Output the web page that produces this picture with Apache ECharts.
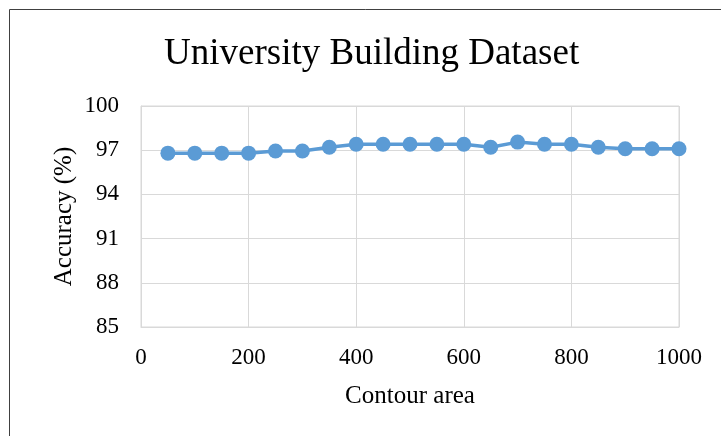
<!DOCTYPE html>
<html>
<head>
<meta charset="utf-8">
<script src="https://cdn.jsdelivr.net/npm/echarts@6/dist/echarts.min.js"></script>
<style>html,body{margin:0;padding:0;background:#fff;}#c{width:721px;height:436px;}</style>
</head>
<body>
<div id="c"></div>
<script>
const contourArea = [50,100,150,200,250,300,350,400,450,500,550,600,650,700,750,800,850,900,950,1000];
const accuracy = [96.8,96.8,96.8,96.8,96.95,96.95,97.2,97.4,97.4,97.4,97.4,97.4,97.2,97.55,97.4,97.4,97.2,97.1,97.1,97.1];
const titleText = 'University Building Dataset';
const xName = 'Contour area';
const yName = 'Accuracy (%)';

const chart = echarts.init(document.getElementById('c'), null, {renderer:'canvas'});
const font = '"Liberation Serif", "Times New Roman", serif';
chart.setOption({
  animation:false,
  backgroundColor:'#fff',
  graphic:[{type:'rect', shape:{x:9.5,y:9.5,width:800,height:600}, style:{fill:'none',stroke:'#404040',lineWidth:1}, silent:true}],
  title:{text:titleText, left:164, top:31, padding:[5,0,5,0],
    textStyle:{fontFamily:font, fontSize:37, fontWeight:'normal', color:'#000'}},
  grid:{left:141, right:42, top:106, bottom:109, show:true, borderColor:'#d9d9d9', borderWidth:1},
  xAxis:{type:'value', min:0, max:1000, interval:200, name:xName, nameLocation:'middle', nameGap:57,
    nameMoveOverlap:false,
    nameTextStyle:{fontFamily:font, fontSize:25, color:'#000'},
    axisLine:{show:true, lineStyle:{color:'#d9d9d9'}}, axisTick:{show:false},
    axisLabel:{fontFamily:font, fontSize:23, color:'#000', margin:19, formatter:v=>String(v)},
    splitLine:{show:true, lineStyle:{color:'#d9d9d9', width:1}}},
  yAxis:{type:'value', min:85, max:100, interval:3, name:yName, nameLocation:'middle', nameGap:64,
    nameMoveOverlap:false,
    nameTextStyle:{fontFamily:font, fontSize:25, color:'#000'},
    axisLine:{show:true, lineStyle:{color:'#d9d9d9'}}, axisTick:{show:false},
    axisLabel:{fontFamily:font, fontSize:23, color:'#000', margin:22},
    splitLine:{show:true, lineStyle:{color:'#d9d9d9', width:1}}},
  series:[{type:'line', data:contourArea.map((x,i)=>[x,accuracy[i]]),
    symbol:'circle', symbolSize:15, itemStyle:{color:'#5b9bd5'},
    lineStyle:{color:'#5b9bd5', width:3.5}}]
});
</script>
</body>
</html>
